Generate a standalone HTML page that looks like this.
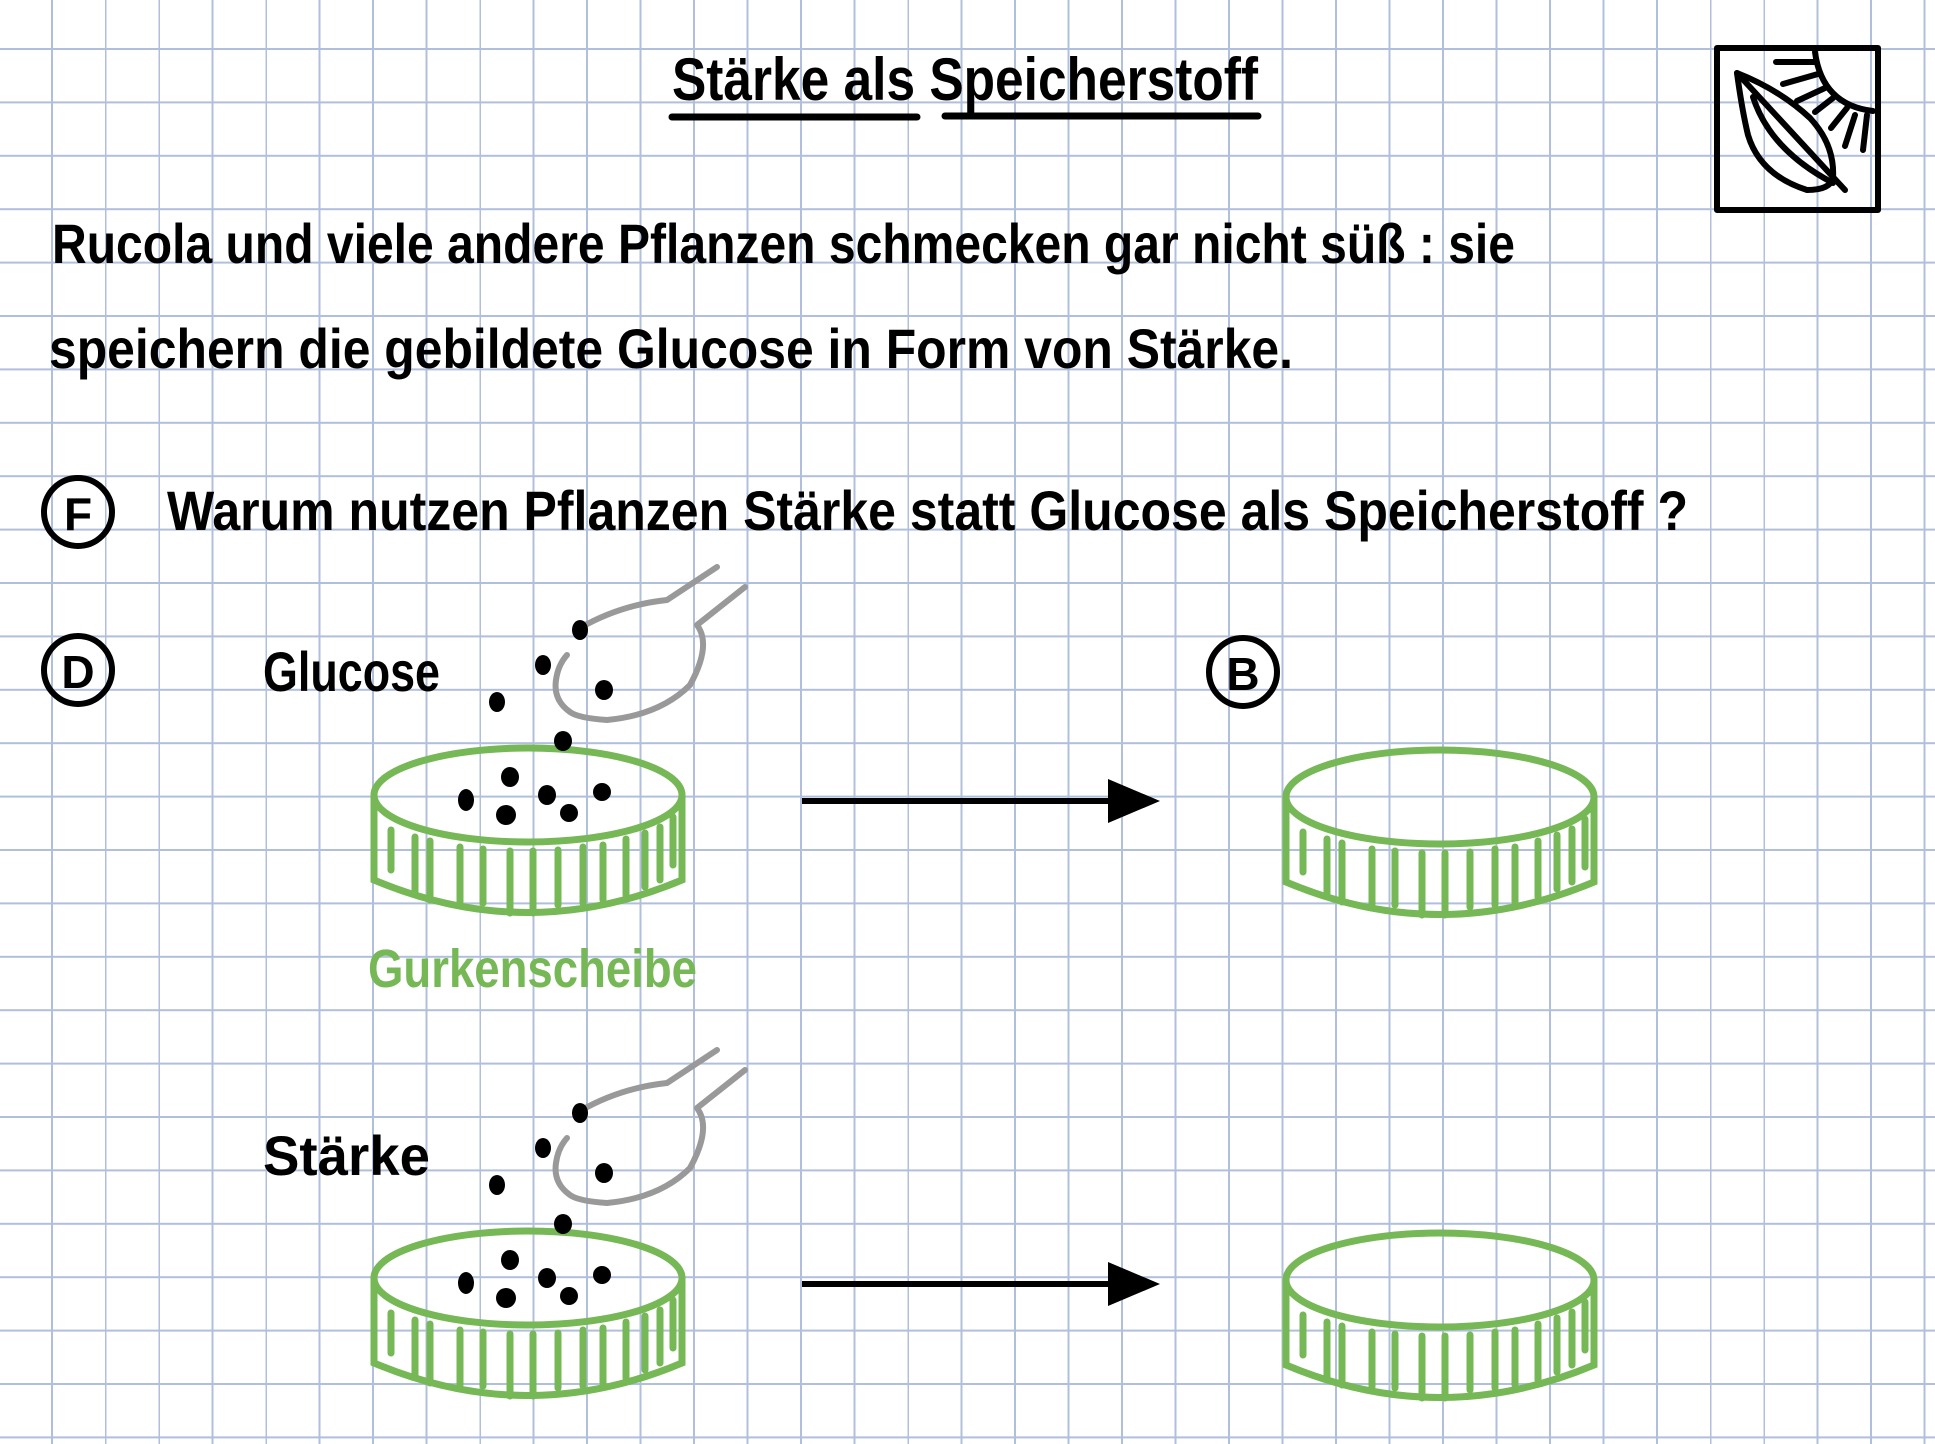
<!DOCTYPE html>
<html><head><meta charset="utf-8"><style>
html,body{margin:0;padding:0;background:#fff}
svg{display:block}
text{font-family:"Liberation Sans",sans-serif;font-weight:bold}
</style></head><body>
<svg width="1935" height="1444" viewBox="0 0 1935 1444" xmlns="http://www.w3.org/2000/svg">
<defs>
<pattern id="g" x="51" y="48" width="53.5" height="53.4" patternUnits="userSpaceOnUse">
<path d="M1 0V53.4M0 1H53.5" stroke="#b0bfdb" stroke-width="2" fill="none"/>
</pattern>
<g id="dish">
<ellipse cx="0" cy="0" rx="154" ry="47" fill="none" stroke="#76b756" stroke-width="7"/>
<path d="M-154 0V85Q0 150 154 85V0" fill="none" stroke="#76b756" stroke-width="7" stroke-linecap="round"/>
<g stroke="#76b756" stroke-width="7" stroke-linecap="round">
<path d="M-137 35V75M-113 42V97M-98 46V105M-68 52V107M-45 54V108M-18 56V118M5 56V118M30 55V110M55 52V108M75 50V105M98 44V100M117 38V92M132 32V85M145 22V70"/>
</g>
</g>
<g id="dots" fill="#000">
<ellipse cx="580" cy="630" rx="8" ry="10"/><ellipse cx="543" cy="665" rx="8" ry="10"/>
<ellipse cx="497" cy="702" rx="8" ry="10"/><ellipse cx="604" cy="690" rx="9" ry="10"/>
<ellipse cx="563" cy="741" rx="9" ry="10"/><ellipse cx="466" cy="800" rx="8" ry="11"/>
<ellipse cx="510" cy="777" rx="9" ry="10"/><ellipse cx="506" cy="815" rx="10" ry="10"/>
<ellipse cx="547" cy="795" rx="9" ry="10"/><ellipse cx="569" cy="813" rx="9" ry="9"/>
<ellipse cx="602" cy="792" rx="9" ry="9"/>
</g>
<path id="spoon" d="M580 628Q620 605 667 600L717 567M745 587L697 625Q712 645 690 685Q660 715 607 720Q578 718 570 712Q553 700 556 680Q558 665 567 655" fill="none" stroke="#999" stroke-width="6" stroke-linecap="round" stroke-linejoin="round"/>
</defs>
<rect width="1935" height="1444" fill="url(#g)"/>

<text x="672" y="100" font-size="60" textLength="586" lengthAdjust="spacingAndGlyphs">Stärke als Speicherstoff</text>
<path d="M672 117H917M945 116H1258" stroke="#000" stroke-width="7" stroke-linecap="round"/>

<g fill="none" stroke="#000" stroke-width="6" stroke-linecap="round" stroke-linejoin="round">
<rect x="1717" y="48" width="161" height="162"/>
<path d="M1737 73L1845 190"/>
<path d="M1737 73Q1742 110 1748 135Q1760 175 1807 190Q1830 190 1833 178Q1835 145 1810 118Q1780 90 1737 73"/>
<path d="M1753 97Q1770 150 1833 183"/>
<path d="M1815 52Q1822 105 1873 111"/>
<path d="M1776 62H1814M1783 84L1818 74M1797 101L1825 88M1815 112L1833 98M1831 128L1847 108M1845 146L1855 115M1863 150L1867 115"/>
</g>

<text x="52" y="263" font-size="56" textLength="1463" lengthAdjust="spacingAndGlyphs">Rucola und viele andere Pflanzen schmecken gar nicht süß : sie</text>
<text x="49" y="368" font-size="56" textLength="1244" lengthAdjust="spacingAndGlyphs">speichern die gebildete Glucose in Form von Stärke.</text>

<g fill="none" stroke="#000" stroke-width="6">
<circle cx="78" cy="512" r="34"/><circle cx="78" cy="670" r="34"/><circle cx="1243" cy="672" r="34"/>
</g>
<text x="78" y="530" font-size="46" text-anchor="middle">F</text>
<text x="78" y="688" font-size="46" text-anchor="middle">D</text>
<text x="1243" y="690" font-size="46" text-anchor="middle">B</text>

<text x="167" y="530" font-size="56" textLength="1521" lengthAdjust="spacingAndGlyphs">Warum nutzen Pflanzen Stärke statt Glucose als Speicherstoff ?</text>
<text x="263" y="691" font-size="56" textLength="177" lengthAdjust="spacingAndGlyphs">Glucose</text>
<text x="263" y="1175" font-size="56" textLength="167" lengthAdjust="spacingAndGlyphs">Stärke</text>
<text x="368" y="987" font-size="54" fill="#76b756" textLength="329" lengthAdjust="spacingAndGlyphs">Gurkenscheibe</text>

<use href="#dish" x="528" y="795"/>
<use href="#dish" x="1440" y="797"/>
<use href="#dish" x="528" y="1278"/>
<use href="#dish" x="1440" y="1280"/>
<use href="#spoon"/><use href="#dots"/>
<use href="#spoon" y="483"/><use href="#dots" y="483"/>

<g stroke="#000" stroke-width="6" fill="#000">
<path d="M802 801H1115"/><path d="M1108 779L1160 801L1108 823Z" stroke="none"/>
<path d="M802 1284H1115"/><path d="M1108 1262L1160 1284L1108 1306Z" stroke="none"/>
</g>
</svg>
</body></html>
